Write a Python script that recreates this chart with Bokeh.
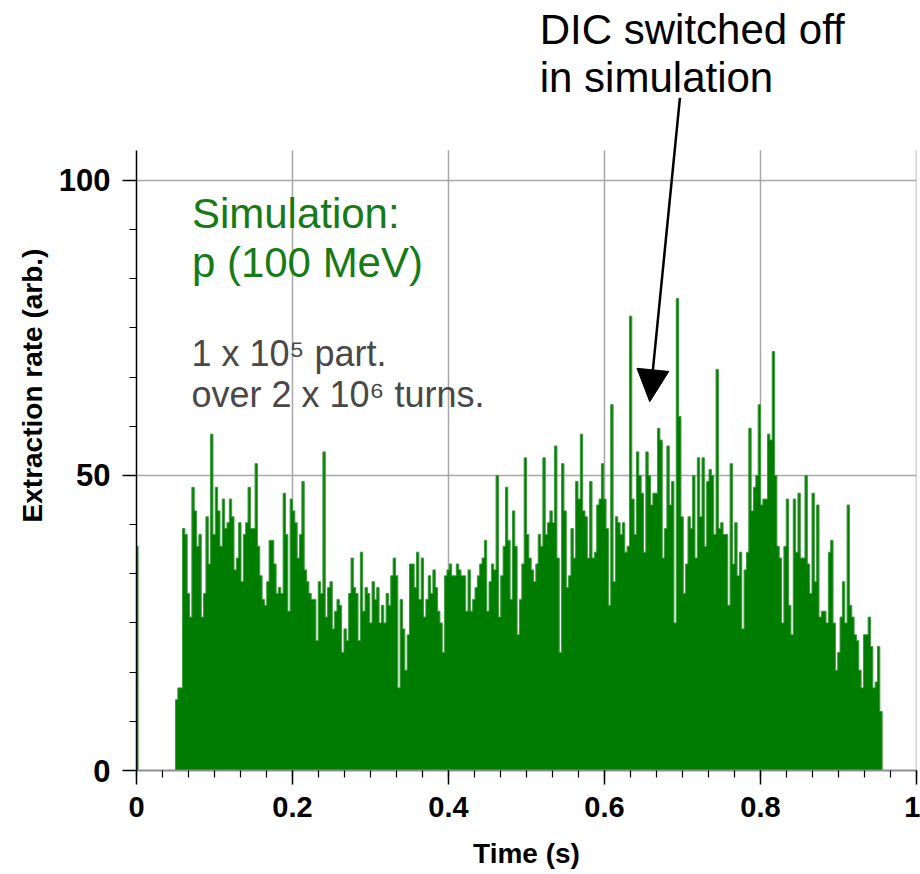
from bokeh.plotting import figure
from bokeh.models import (Label, Arrow, NormalHead, SingleIntervalTicker,
                          CustomJSTickFormatter, Range1d)
from bokeh.embed import file_html
from bokeh.resources import INLINE

# ---------------- data ----------------
first_bin_t = [0.0, 0.002]          # narrow spike at injection
first_bin_rate = [38]
bin_start = 0.05                     # start of extraction (s)
bin_width = 0.003                    # histogram bin width (s)
rate = [
    12, 14, 14, 41, 40, 30, 26, 48, 44, 38, 40, 26, 30, 43, 35, 57, 40, 48, 44, 38,
    46, 41, 42, 46, 43, 34, 36, 42, 32, 40, 42, 48, 41, 41, 52, 38, 33, 29, 28, 32,
    39, 39, 35, 30, 31, 30, 47, 40, 27,
    46, 44, 42, 36, 40, 49, 34, 32, 30, 29, 29, 22, 32, 30, 54, 26, 31, 32, 24, 27,
    29, 28, 20, 24, 22, 30, 36, 31, 30, 22, 37, 27, 31, 30, 25, 32, 29, 31, 25, 28,
    25, 30, 28, 33, 36, 33, 14, 29, 24, 17, 23,
    35, 35, 31, 37, 29, 36, 26, 29, 33, 30, 34, 31, 27, 25, 20, 33, 34, 35, 33, 33,
    35, 34, 33, 33, 27, 34, 27, 29, 31, 33, 35, 36, 39, 27, 32, 35, 34, 50, 26, 33,
    38, 48, 39, 29, 44, 38, 23, 29, 35, 53, 40, 36,
    34, 32, 35, 40, 38, 53, 40, 42, 44, 42, 55, 36, 20, 52, 44, 31, 33, 41, 36, 49,
    46, 57, 44, 43, 36, 49, 36, 37, 45, 46, 52, 46, 41, 28, 62, 32, 43, 42, 40, 42,
    37, 38, 77, 46, 40, 54, 50, 47, 37, 54, 50,
    45, 47, 47, 58, 56, 36, 41, 55, 45, 49, 25, 80, 60, 43, 30, 35, 43, 41, 50, 36,
    53, 43, 53, 38, 49, 51, 50, 40, 68, 41, 42, 40, 40, 28, 52, 35, 42, 33, 37, 24,
    34, 37, 58, 44, 48, 50, 62, 45, 46, 46, 57, 56,
    71, 50, 38, 36, 25, 38, 46, 28, 23, 46, 37, 47, 36, 36, 50, 35, 30, 47, 32, 45,
    26, 27, 27, 25, 37, 39, 25, 17, 20, 26, 32, 25, 45, 28, 26, 23, 22, 17, 14, 23,
    23, 26, 21, 14, 15, 21, 10,
]
t_end = 1.0

x_ticks = [0.2, 0.4, 0.6, 0.8, 1.0]     # vertical grid positions
y_axis_top = 105.1                      # top of the drawn y axis
y_view_top = 130.5                      # room above the axes for the note

x_title = "Time (s)"
y_title = "Extraction rate (arb.)"
sim_title = ["Simulation:", "p (100 MeV)"]
sim_info = ["1 x 10\u2075 part.", "over 2 x 10\u2076 turns."]
note_text = ["DIC switched off", "in simulation"]
note_from = (0.6967, 114.0)
note_to = (0.658, 62.5)

# ---------------- build histogram outline ----------------
step_x = [first_bin_t[0], first_bin_t[1]] + [bin_start + i * bin_width for i in range(len(rate))] \
    + [bin_start + len(rate) * bin_width, t_end]
step_y = first_bin_rate + [0] + rate + [0, 0]

FILL = "#007c00"
EDGE = "#3a9a3a"
GRID = "#a8a8a8"

p = figure(width=920, height=874, output_backend="svg", toolbar_location=None,
           x_range=Range1d(0, 1.0), y_range=Range1d(0, y_view_top),
           min_border_left=136, min_border_right=4, min_border_top=0,
           min_border_bottom=104)
p.outline_line_color = None
p.background_fill_color = "white"
p.border_fill_color = "white"

# vertical grid lines that stop at the top of the axes
p.xgrid.visible = False
p.segment(x0=x_ticks, x1=x_ticks, y0=[0] * len(x_ticks), y1=[y_axis_top] * len(x_ticks),
          line_color=GRID, line_width=1.5)

p.varea_step(x=step_x, y1=[0] * len(step_x), y2=step_y, step_mode="after",
             fill_color=FILL)
p.step(step_x, step_y, mode="after", line_color=EDGE, line_width=1.0)

# axes
p.xaxis.ticker = SingleIntervalTicker(interval=0.2, num_minor_ticks=6)
p.yaxis.ticker = SingleIntervalTicker(interval=50, num_minor_ticks=6)
p.xaxis.formatter = CustomJSTickFormatter(code="return String(Number(tick.toFixed(2)));")
p.yaxis.bounds = (0, y_axis_top)

for ax in (p.xaxis[0], p.yaxis[0]):
    ax.major_tick_out = 14
    ax.major_tick_in = 0
    ax.minor_tick_out = 7
    ax.minor_tick_in = 0
    ax.major_tick_line_color = "black"
    ax.minor_tick_line_color = "black"
    ax.major_tick_line_width = 1.5
    ax.minor_tick_line_width = 1.2
    ax.axis_label_text_font_style = "bold"
    ax.major_label_text_font_style = "bold"
    ax.major_label_text_color = "black"
    ax.axis_label_text_color = "black"
    ax.major_label_text_font = "Liberation Sans"
    ax.axis_label_text_font = "Liberation Sans"

p.yaxis.axis_line_color = "black"
p.yaxis.axis_line_width = 1.5
p.xaxis.axis_line_color = "#909090"
p.xaxis.axis_line_width = 2

p.yaxis.major_label_text_font_size = "31px"
p.yaxis.major_label_standoff = 12
p.yaxis.axis_label = y_title
p.yaxis.axis_label_text_font_size = "28px"
p.yaxis.axis_label_standoff = 8

p.xaxis.major_label_text_font_size = "29px"
p.xaxis.major_label_standoff = 12
p.xaxis.axis_label = x_title
p.xaxis.axis_label_text_font_size = "28px"
p.xaxis.axis_label_standoff = 18

p.ygrid.grid_line_color = GRID
p.ygrid.grid_line_width = 1.5

# annotations
for txt, yy in zip(sim_title, [94.4, 86.1]):
    p.add_layout(Label(x=0.071, y=yy, text=txt, text_font="Liberation Sans",
                       text_font_size="42px", text_color="#167a16",
                       text_baseline="middle", text_align="left"))
for txt, yy in zip(sim_info, [70.7, 63.7]):
    p.add_layout(Label(x=0.0705, y=yy, text=txt, text_font="Liberation Sans",
                       text_font_size="36px", text_color="#484848",
                       text_baseline="middle", text_align="left"))
for txt, yy in zip(note_text, [125.6, 117.5]):
    p.add_layout(Label(x=0.517, y=yy, text=txt, text_font="Liberation Sans",
                       text_font_size="42px", text_color="black",
                       text_baseline="middle", text_align="left"))

p.add_layout(Arrow(x_start=note_from[0], y_start=note_from[1],
                   x_end=note_to[0], y_end=note_to[1],
                   line_color="black", line_width=2.5,
                   end=NormalHead(size=32, fill_color="black", line_color="black")))

open("out.html", "w").write(file_html(p, INLINE))
